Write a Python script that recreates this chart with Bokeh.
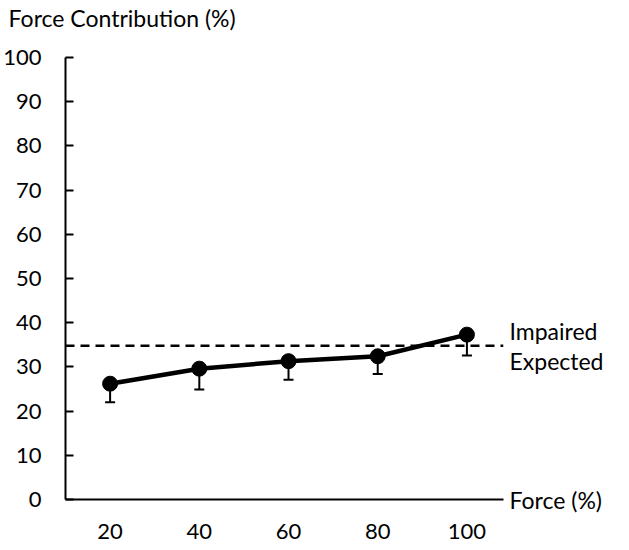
from bokeh.plotting import figure
from bokeh.models import (FixedTicker, Whisker, ColumnDataSource, TeeHead,
                          LinearAxis)
from bokeh.embed import file_html
from bokeh.resources import INLINE

# ---- data ----
force = [20, 40, 60, 80, 100]                 # Force (%) categories
contribution = [26.2, 29.6, 31.3, 32.4, 37.3]  # mean force contribution (%)
lower_err = [22.0, 24.9, 27.1, 28.4, 32.6]     # lower end of error bars
impaired_expected = 34.8                       # dashed reference level
y_ticks = [0, 10, 20, 30, 40, 50, 60, 70, 80, 90, 100]
# texts written at the right of the plot, with the level they sit at
side_texts = ["Force (%)", "Expected", "Impaired"]
side_levels = [0, 31.4, 38.2]
title_text = "Force Contribution (%)"
title_at = 22.7          # x position (data units) where the title is centred

FONT = "Lato"
FS = "23px"
TFS = "22px"

src = ColumnDataSource(dict(x=force, y=contribution, lo=lower_err))

p = figure(width=613, height=550, output_backend="svg", toolbar_location=None,
           x_range=(10, 108.2), y_range=(0, 100),
           min_border_left=59, min_border_right=110, min_border_top=57,
           min_border_bottom=51)
p.outline_line_color = None
p.grid.visible = False

# y axis
ya = p.yaxis[0]
ya.ticker = FixedTicker(ticks=y_ticks)
ya.axis_line_width = 2
ya.axis_line_color = "black"
ya.major_tick_in = 8
ya.major_tick_out = 0
ya.major_tick_line_width = 2
ya.major_tick_line_color = "black"
ya.minor_tick_line_color = None
ya.major_label_standoff = 24
ya.major_label_text_font = FONT
ya.major_label_text_font_size = TFS
ya.major_label_text_color = "black"

# x axis
xa = p.xaxis[0]
xa.ticker = FixedTicker(ticks=force)
xa.axis_line_width = 2
xa.axis_line_color = "black"
xa.major_tick_in = 0
xa.major_tick_out = 0
xa.major_tick_line_color = None
xa.minor_tick_line_color = None
xa.major_label_standoff = 24
xa.major_label_text_font = FONT
xa.major_label_text_font_size = TFS
xa.major_label_text_color = "black"
xa.axis_label_standoff = 0
xa.axis_label_text_font_size = "0px"

# title written above the plot, as the label of a bare top axis
ta = LinearAxis(ticker=FixedTicker(ticks=[title_at]),
                major_label_overrides={title_at: title_text},
                axis_line_color=None, major_tick_line_color=None,
                minor_tick_line_color=None, major_tick_in=0, major_tick_out=0,
                major_label_standoff=26, major_label_text_font=FONT,
                major_label_text_font_size=FS, major_label_text_color="black",
                axis_label_standoff=0, axis_label_text_font_size="0px")
p.add_layout(ta, "above")

# right-hand texts: an axis with no line, only labels
ra = LinearAxis(ticker=FixedTicker(ticks=side_levels),
                major_label_overrides={lv: t for lv, t in zip(side_levels, side_texts)},
                axis_line_color=None, major_tick_line_color=None,
                minor_tick_line_color=None, major_tick_in=0, major_tick_out=0,
                major_label_standoff=6, major_label_text_font=FONT,
                major_label_text_font_size=FS, major_label_text_color="black",
                axis_label_standoff=0, axis_label_text_font_size="0px")
p.add_layout(ra, "right")

# dashed impaired-expected line across the category axis
p.segment(x0=p.x_range.start, x1=p.x_range.end, y0=impaired_expected,
          y1=impaired_expected, line_color="black", line_width=2.5,
          line_dash="9 6")

# error bars (downward only)
wh = Whisker(source=src, base="x", upper="y", lower="lo",
             line_color="black", line_width=2,
             upper_head=None,
             lower_head=TeeHead(size=10, line_color="black", line_width=2))
p.add_layout(wh)

p.line("x", "y", source=src, line_color="black", line_width=4.5)
p.scatter("x", "y", source=src, size=15, fill_color="black", line_color="black")

open("out.html", "w").write(file_html(p, INLINE))
